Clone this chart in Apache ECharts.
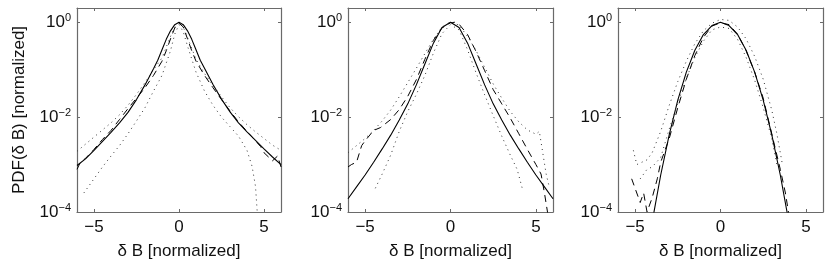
<!DOCTYPE html>
<html><head><meta charset="utf-8">
<script src="https://cdn.jsdelivr.net/npm/echarts@6/dist/echarts.min.js"></script>
<style>html,body{margin:0;padding:0;background:#fff}#c{width:830px;height:269px}</style>
</head><body><div id="c"></div>
<script>
// ---- tick labels ----
const xTickValues = [-5, 0, 5];
const yTickValues = [1e-4, 1e-2, 1];
const xTitle = 'δ B [normalized]';
const yTitle = 'PDF(δ B) [normalized]';

// ---- panel 1 (values read as log10 of PDF) ----
const p1SolidX = [-6,-5.5,-5,-4.5,-4,-3.5,-3,-2.5,-2,-1.5,-1.25,-1,-0.75,-0.5,-0.25,0,0.25,0.5,0.75,1,1.25,1.5,2,2.5,3,3.5,4,4.5,5,5.5,6];
const p1SolidLog = [-3.02,-2.88,-2.7,-2.51,-2.32,-2.12,-1.9,-1.63,-1.32,-0.98,-0.8,-0.58,-0.36,-0.18,-0.05,0,-0.05,-0.18,-0.36,-0.58,-0.8,-0.97,-1.31,-1.62,-1.89,-2.12,-2.31,-2.49,-2.67,-2.84,-3.0];
const p1DashX = [-6,-5.8,-5.5,-5,-4.5,-4,-3.5,-3,-2.5,-2,-1.5,-1,-0.75,-0.5,-0.25,0,0.25,0.5,0.75,1,1.5,2,2.5,3,3.5,4,4.5,4.8,5,5.5,5.8,6];
const p1DashLog = [-3.1,-2.95,-2.87,-2.68,-2.47,-2.28,-2.05,-1.82,-1.6,-1.38,-1.12,-0.82,-0.6,-0.35,-0.12,-0.02,-0.1,-0.35,-0.6,-0.82,-1.12,-1.38,-1.63,-1.87,-2.1,-2.3,-2.5,-2.62,-2.75,-2.92,-2.82,-3.05];
const p1DotHiX = [-6,-5.5,-5,-4.5,-4,-3.5,-3,-2.5,-2,-1.5,-1,-0.5,-0.25,0,0.25,0.5,1,1.5,2,2.5,3,3.5,4,4.5,5,5.5,6];
const p1DotHiLog = [-2.72,-2.57,-2.42,-2.27,-2.12,-1.95,-1.75,-1.52,-1.27,-1.0,-0.75,-0.3,-0.1,0,-0.1,-0.32,-0.78,-1.08,-1.33,-1.57,-1.8,-1.99,-2.16,-2.31,-2.45,-2.59,-2.7];
const p1DotLoX = [-5.6,-5,-4.5,-4,-3.5,-3,-2.5,-2,-1.5,-1,-0.5,-0.25,0,0.25,0.5,1,1.5,2,2.5,3,3.5,4,4.3,4.5,4.6,4.7];
const p1DotLoLog = [-3.6,-3.3,-3.05,-2.82,-2.6,-2.35,-2.08,-1.8,-1.45,-1.12,-0.6,-0.25,-0.05,-0.2,-0.5,-1.05,-1.45,-1.75,-2.0,-2.2,-2.4,-2.7,-3.04,-3.46,-3.99,-4.5];

// ---- panel 2 ----
const p2SolidX = [-6,-5.5,-5,-4.5,-4,-3.5,-3,-2.5,-2,-1.5,-1,-0.5,0,0.5,1,1.5,2,2.5,3,3.5,4,4.5,5,5.5,6];
const p2SolidLog = [-3.72,-3.47,-3.22,-2.95,-2.67,-2.38,-2.06,-1.72,-1.32,-0.88,-0.44,-0.11,0,-0.11,-0.44,-0.88,-1.32,-1.72,-2.06,-2.38,-2.67,-2.95,-3.22,-3.47,-3.72];
const p2DashX = [-6,-5.8,-5.5,-5.2,-5,-4.5,-4.1,-3.5,-3,-2.5,-2,-1.5,-1,-0.5,0,0.25,0.5,1,1.5,2,2.5,3,3.5,4,4.5,5,5.3,5.5,5.7,5.9];
const p2DashLog = [-3.05,-3.0,-2.95,-2.6,-2.5,-2.28,-2.22,-2.05,-1.84,-1.56,-1.21,-0.78,-0.38,-0.12,-0.01,0,-0.04,-0.26,-0.62,-1.02,-1.42,-1.72,-2.02,-2.35,-2.68,-3.0,-3.2,-3.6,-4.05,-4.6];
const p2DotHiX = [-6,-5.5,-5,-4.5,-4,-3.5,-3,-2.5,-2,-1.5,-1,-0.5,0,0.5,1,1.5,2,2.5,3,3.5,4,4.5,5,5.2,5.4,5.6,5.8];
const p2DotHiLog = [-2.75,-2.6,-2.45,-2.28,-2.08,-1.85,-1.57,-1.27,-0.97,-0.66,-0.36,-0.1,0.01,-0.06,-0.3,-0.6,-0.95,-1.3,-1.6,-1.88,-2.1,-2.27,-2.36,-2.3,-2.75,-3.2,-3.5];
const p2DotLoX = [-4.4,-4,-3.5,-3,-2.5,-2,-1.5,-1,-0.5,0,0.5,1,1.5,2,2.5,3,3.5,3.9,4.2];
const p2DotLoLog = [-3.5,-3.2,-2.8,-2.3,-1.88,-1.52,-1.12,-0.65,-0.24,-0.05,-0.16,-0.58,-1.07,-1.53,-1.97,-2.4,-2.8,-3.1,-3.5];

// ---- panel 3 ----
const p3SolidX = [-4.2,-4,-3.5,-3,-2.5,-2,-1.5,-1,-0.5,0,0.5,1,1.5,2,2.5,3,3.5,4,4.2];
const p3SolidLog = [-4.64,-4.21,-3.22,-2.37,-1.64,-1.05,-0.59,-0.26,-0.07,0,-0.07,-0.26,-0.59,-1.05,-1.64,-2.37,-3.22,-4.21,-4.64];
const p3DashX = [-5.2,-5,-4.7,-4.5,-4.3,-4,-3.7,-3.5,-3,-2.5,-2,-1.5,-1,-0.5,0,0.5,1,1.5,2,2.5,3,3.5,3.8,4,4.2];
const p3DashLog = [-3.3,-3.5,-3.8,-3.6,-4.0,-3.7,-3.3,-2.95,-2.45,-1.8,-1.2,-0.7,-0.32,-0.08,-0.01,-0.05,-0.25,-0.6,-1.05,-1.6,-2.35,-3.1,-3.6,-4.05,-4.5];
const p3DotHiX = [-5.1,-4.9,-4.6,-4.3,-4,-3.5,-3,-2.5,-2,-1.5,-1,-0.5,0,0.5,1,1.5,2,2.5,3,3.3,3.6];
const p3DotHiLog = [-2.7,-3.0,-2.95,-2.9,-2.75,-2.3,-1.75,-1.25,-0.82,-0.45,-0.18,-0.02,0.06,0.04,-0.1,-0.35,-0.72,-1.2,-1.85,-2.35,-2.95];
const p3DotLoX = [-4.7,-4.3,-4,-3.5,-3,-2.5,-2,-1.5,-1,-0.5,0,0.5,1,1.5,2,2.5,3,3.3];
const p3DotLoLog = [-3.3,-3.1,-3.05,-2.85,-2.25,-1.7,-1.18,-0.74,-0.4,-0.16,-0.1,-0.13,-0.36,-0.74,-1.22,-1.8,-2.45,-3.0];

const panels = [
  [[p1SolidX,p1SolidLog,'solid'],[p1DashX,p1DashLog,'dash'],[p1DotHiX,p1DotHiLog,'dot'],[p1DotLoX,p1DotLoLog,'dot']],
  [[p2SolidX,p2SolidLog,'solid'],[p2DashX,p2DashLog,'dash'],[p2DotHiX,p2DotHiLog,'dot'],[p2DotLoX,p2DotLoLog,'dot']],
  [[p3SolidX,p3SolidLog,'solid'],[p3DashX,p3DashLog,'dash'],[p3DotHiX,p3DotHiLog,'dot'],[p3DotLoX,p3DotLoLog,'dot']]
];

const gridLefts = [77, 348, 618];
const gridWidths = [204, 205, 205];
const FONT = 'Liberation Sans, Arial, Helvetica, sans-serif';
const AX = '#6a6a6a';
const TXT = '#111';
const minus = v => (v < 0 ? '\u2212' + (-v) : '' + v);

const styles = {
  solid: {color:'#000', width:1.1, type:'solid'},
  dash:  {color:'#000', width:1, type:[7,5]},
  dot:   {color:'#333', width:1, type:[1,4]}
};

const grid = [], xAxis = [], yAxis = [], series = [];
panels.forEach((curves, i) => {
  grid.push({left: gridLefts[i], top: 8, width: gridWidths[i], height: 204, show: false});
  const baseX = {type:'value', gridIndex:i, min:-6, max:6,
    axisLine:{show:true, onZero:false, lineStyle:{color:AX, width:1.2}},
    axisTick:{show:true, inside:true, length:3, customValues:xTickValues, lineStyle:{color:AX}},
    splitLine:{show:false}};
  xAxis.push(Object.assign({}, baseX, {position:'bottom',
    name:xTitle, nameLocation:'middle', nameGap:31,
    nameTextStyle:{fontFamily:FONT, fontSize:17, color:TXT},
    axisLabel:{show:true, customValues:xTickValues, formatter:minus, fontFamily:FONT, fontSize:17, color:TXT, margin:7}}));
  xAxis.push(Object.assign({}, baseX, {position:'top', axisLabel:{show:false}}));
  const baseY = {type:'log', logBase:10, gridIndex:i, min:1e-4, max:2,
    axisLine:{show:true, onZero:false, lineStyle:{color:AX, width:1.2}},
    axisTick:{show:true, inside:true, length:3, customValues:yTickValues, lineStyle:{color:AX}},
    minorTick:{show:false}, splitLine:{show:false}};
  const yl = Object.assign({}, baseY, {position:'left',
    axisLabel:{show:true, customValues:yTickValues, margin:6, fontFamily:FONT, fontSize:17, color:TXT,
      formatter: v => '10{s|' + minus(Math.round(Math.log10(v))) + '}',
      rich:{s:{fontFamily:FONT, fontSize:11, color:TXT, verticalAlign:'top', padding:[0,0,9,0]}}}});
  if (i === 0) {
    yl.name = yTitle; yl.nameLocation = 'middle'; yl.nameGap = 49; yl.nameRotate = 90;
    yl.nameTextStyle = {fontFamily:FONT, fontSize:17, color:TXT};
  }
  yAxis.push(yl);
  yAxis.push(Object.assign({}, baseY, {position:'right', axisLabel:{show:false}}));
  curves.forEach(([xs, logs, kind]) => {
    series.push({type:'line', xAxisIndex:2*i, yAxisIndex:2*i, showSymbol:false, clip:true,
      lineStyle:styles[kind], data: xs.map((x,k) => [x, Math.pow(10, logs[k])])});
  });
});

const chart = echarts.init(document.getElementById('c'), null, {renderer:'canvas'});
chart.setOption({animation:false, backgroundColor:'#fff', grid, xAxis, yAxis, series});
</script></body></html>
